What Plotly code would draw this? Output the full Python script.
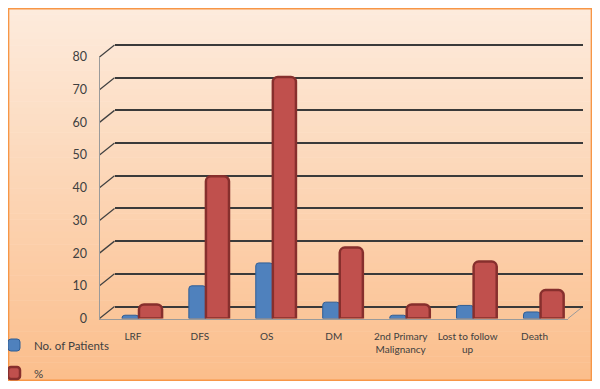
import plotly.graph_objects as go

categories = ["LRF", "DFS", "OS", "DM", "2nd Primary<br>Malignancy", "Lost to follow<br>up", "Death"]
patients = [1, 10, 17, 5, 1, 4, 2]
percent = [4.3, 43.5, 73.9, 21.7, 4.3, 17.4, 8.7]
y_ticks = [0, 10, 20, 30, 40, 50, 60, 70, 80]
series_names = ["No. of Patients", "%"]

# page body has an 8px margin; figure sized to fit inside the 600x389 window
OFF = 8
W, H = 600 - 2 * OFF, 389 - 2 * OFF
def px(x): return (x - OFF) / W
def py(y): return 1 - (y - OFF) / H

# front frame (screen pixels of the reference)
FX0, FX1 = 99.5, 568
FY0, FY80 = 318.5, 57
DX, DY = 15, -12  # depth offset to back wall
def fy(v): return FY0 + (FY80 - FY0) * v / 80.0
PAD = 1.0  # value padding so edge gridlines (0 and 80) are drawn

fig = go.Figure()
# invisible trace on the back-wall axes (drawn first -> gridlines behind bars)
fig.add_trace(go.Scatter(x=[0, 1], y=[0, 0], xaxis="x", yaxis="y", mode="lines",
                         line=dict(width=0), showlegend=False, hoverinfo="skip"))
fig.add_trace(go.Bar(x=categories, y=patients, name=series_names[0], xaxis="x2", yaxis="y2",
                     marker=dict(color="#4F81BD", line=dict(color="#2F5E96", width=1), cornerradius=3),
                     offset=-0.165, width=0.255, legend="legend"))
fig.add_trace(go.Bar(x=categories, y=percent, name=series_names[1], xaxis="x2", yaxis="y2",
                     marker=dict(color="#C0504D", line=dict(color="#872F2D", width=2.5), cornerradius=5),
                     offset=0.09, width=0.345, legend="legend2"))

shapes = []
# gradient background inside orange frame
top, bot = 8, 381
left, right = 8, 592
c0 = (253, 235, 220)
c1 = (251, 190, 140)
n = 60
for i in range(n):
    t = i / (n - 1)
    c = tuple(int(round(c0[k] + (c1[k] - c0[k]) * t)) for k in range(3))
    y0 = top + (bot - top) * i / n
    y1 = top + (bot - top) * (i + 1) / n
    shapes.append(dict(type="rect", xref="paper", yref="paper", x0=px(left), x1=px(right),
                       y0=py(y1 + 0.5), y1=py(y0), fillcolor="rgb(%d,%d,%d)" % c,
                       line=dict(width=0), layer="below"))
shapes.append(dict(type="rect", xref="paper", yref="paper", x0=px(left) + 0.001, x1=px(right) - 0.001,
                   y0=py(bot) + 0.002, y1=py(top) - 0.002, line=dict(color="#F79646", width=1.5),
                   fillcolor="rgba(0,0,0,0)", layer="below"))
# depth diagonals from front axis to back wall gridlines
for v in y_ticks:
    shapes.append(dict(type="line", xref="paper", yref="paper",
                       x0=px(FX0), y0=py(fy(v)), x1=px(FX0 + DX), y1=py(fy(v) + DY),
                       line=dict(color="#404040", width=1.3), layer="below"))
# floor right diagonal
shapes.append(dict(type="line", xref="paper", yref="paper",
                   x0=px(FX1), y0=py(fy(0)), x1=px(FX1 + DX), y1=py(fy(0) + DY),
                   line=dict(color="#9a9a9a", width=1), layer="below"))

fig.update_layout(
    width=W, height=H, margin=dict(l=0, r=0, t=0, b=0, autoexpand=False),
    paper_bgcolor="white", plot_bgcolor="rgba(0,0,0,0)",
    barmode="overlay",
    font=dict(family="Lato, Open Sans, sans-serif", color="#404040"),
    shapes=shapes,
    # back wall
    xaxis=dict(domain=[px(FX0 + DX), px(FX1 + DX)], range=[0, 1], visible=False, anchor="y",
               fixedrange=True),
    yaxis=dict(domain=[py(fy(-PAD) + DY), py(fy(80 + PAD) + DY)], range=[-PAD, 80 + PAD],
               tickvals=y_ticks,
               showgrid=True, gridcolor="#3a3a3a", gridwidth=1.6, zeroline=False,
               showticklabels=False, showline=False, anchor="x", fixedrange=True),
    # front (bars, labels)
    xaxis2=dict(domain=[px(FX0), px(FX1)], type="category", showgrid=False, anchor="y2",
                showline=True, linecolor="#9a9a9a", linewidth=1,
                ticks="outside", ticklen=8, tickcolor="rgba(0,0,0,0)",
                tickfont=dict(size=10, color="#404040"), fixedrange=True),
    yaxis2=dict(domain=[py(FY0), py(FY80)], range=[0, 80], tickvals=y_ticks, anchor="x2",
                showgrid=False, zeroline=False, showline=True, linecolor="#9a9a9a", linewidth=1,
                ticks="outside", ticklen=9, tickcolor="rgba(0,0,0,0)",
                tickfont=dict(size=12.5, color="#404040"), fixedrange=True),
    legend=dict(x=px(-6), y=py(345), xanchor="left", yanchor="middle",
                bgcolor="rgba(0,0,0,0)", font=dict(size=11.5, color="#404040"), itemwidth=30),
    legend2=dict(x=px(-6), y=py(373), xanchor="left", yanchor="middle",
                 bgcolor="rgba(0,0,0,0)", font=dict(size=11.5, color="#404040"), itemwidth=30),
)

fig.write_html("out.html")
